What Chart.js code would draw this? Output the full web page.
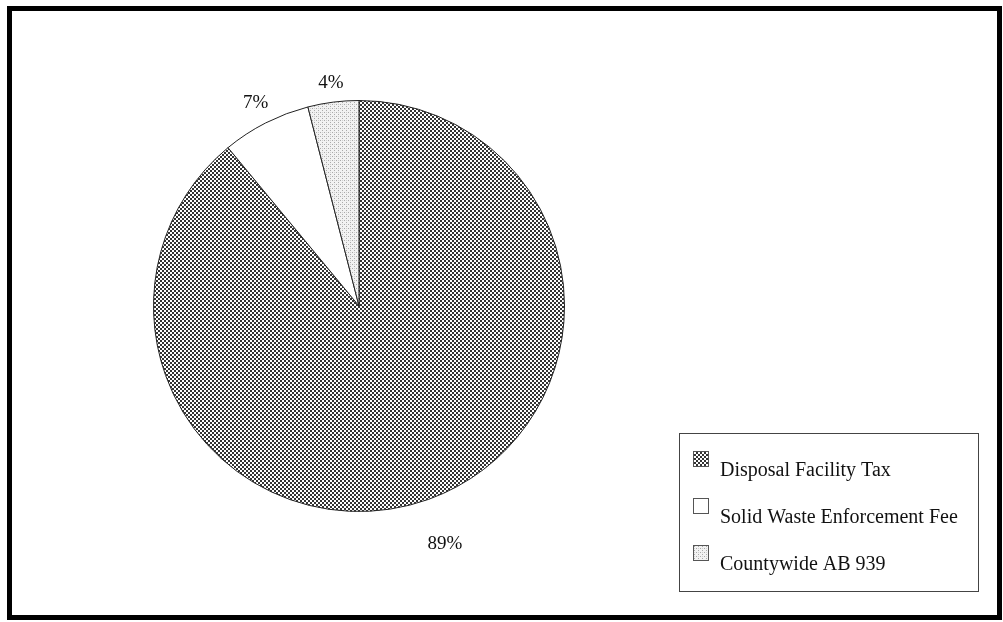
<!DOCTYPE html>
<html>
<head>
<meta charset="utf-8">
<script src="https://cdn.jsdelivr.net/npm/chart.js@4.4.1/dist/chart.umd.min.js"></script>
<style>
  html, body { margin: 0; padding: 0; background: #fff; }
  #wrap { position: relative; width: 1003px; height: 622px; }
</style>
</head>
<body>
<div id="wrap"><canvas id="pie" width="1003" height="622"></canvas></div>
<script>
const categories = ['Disposal Facility Tax', 'Solid Waste Enforcement Fee', 'Countywide AB 939'];
const shares = [89, 7, 4];
const shareLabels = ['89%', '7%', '4%'];

const FONT = '"Liberation Serif", "Times New Roman", serif';

// fill patterns, roughly like the scanned print
function checker() {
  const c = document.createElement('canvas');
  c.width = 4; c.height = 4;
  const g = c.getContext('2d');
  g.fillStyle = '#fff'; g.fillRect(0, 0, 4, 4);
  g.fillStyle = '#333';
  g.fillRect(0, 0, 2, 2);
  g.fillRect(2, 2, 2, 2);
  return g.createPattern(c, 'repeat');
}
function speckle() {
  const c = document.createElement('canvas');
  c.width = 4; c.height = 4;
  const g = c.getContext('2d');
  g.fillStyle = '#f2f2f2'; g.fillRect(0, 0, 4, 4);
  g.fillStyle = '#aaa';
  g.fillRect(0, 0, 1, 1);
  g.fillRect(2, 2, 1, 1);
  g.fillStyle = '#d0d0d0';
  g.fillRect(2, 0, 1, 1);
  return g.createPattern(c, 'repeat');
}
const fills = [checker(), '#ffffff', speckle()];

// extra distance of each % label beyond the rim
const labelGap = [48, 22, 19];

const frameAndLabels = {
  id: 'frameAndLabels',
  afterDraw(chart) {
    const ctx = chart.ctx;
    ctx.save();
    // outer frame
    ctx.strokeStyle = '#000';
    ctx.lineWidth = 5;
    ctx.strokeRect(9.5, 8.5, 990, 609);

    // percentage labels outside the slices
    ctx.fillStyle = '#111';
    ctx.font = '19px ' + FONT;
    ctx.textAlign = 'center';
    ctx.textBaseline = 'middle';
    chart.getDatasetMeta(0).data.forEach((arc, i) => {
      const p = arc.getProps(['x', 'y', 'startAngle', 'endAngle', 'outerRadius'], true);
      const mid = (p.startAngle + p.endAngle) / 2;
      const d = p.outerRadius + labelGap[i];
      ctx.fillText(shareLabels[i], p.x + Math.cos(mid) * d, p.y + Math.sin(mid) * d);
    });

    // legend box
    const bx = 679, by = 433, bw = 299, bh = 158;
    ctx.strokeStyle = '#444';
    ctx.lineWidth = 1;
    ctx.strokeRect(bx + 0.5, by + 0.5, bw, bh);
    ctx.font = '20px ' + FONT;
    ctx.textAlign = 'left';
    ctx.textBaseline = 'alphabetic';
    categories.forEach((name, i) => {
      const y = by + 18 + i * 47;
      ctx.fillStyle = fills[i];
      ctx.fillRect(bx + 14, y, 16, 16);
      ctx.strokeStyle = '#555';
      ctx.strokeRect(bx + 14.5, y + 0.5, 15, 15);
      ctx.fillStyle = '#111';
      ctx.fillText(name, bx + 41, y + 25);
    });
    ctx.restore();
  }
};

new Chart(document.getElementById('pie'), {
  type: 'pie',
  data: {
    labels: categories,
    datasets: [{
      data: shares,
      backgroundColor: fills,
      borderColor: '#222',
      borderWidth: 1
    }]
  },
  options: {
    responsive: false,
    animation: false,
    layout: { padding: { left: 153, right: 438, top: 100, bottom: 110 } },
    plugins: {
      legend: { display: false },
      tooltip: { enabled: false }
    }
  },
  plugins: [frameAndLabels]
});
</script>
</body>
</html>
